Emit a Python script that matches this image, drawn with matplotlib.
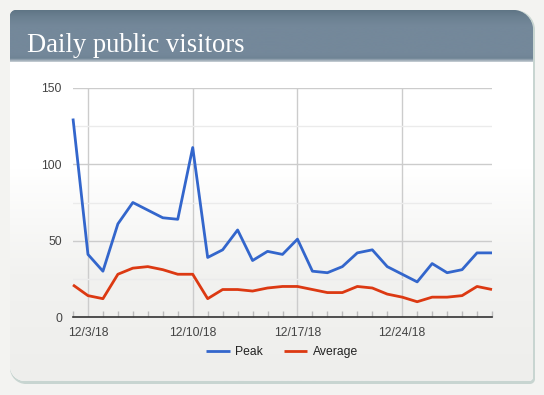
import numpy as np
import matplotlib
matplotlib.use("Agg")
import matplotlib.pyplot as plt
import matplotlib.dates as mdates
from matplotlib.path import Path
from matplotlib.patches import PathPatch
import datetime as dt

# ---------------- data ----------------
start_date = "2018-12-02"
n_days = 29
peak = [130, 41, 30, 61, 75, 70, 65, 64, 111, 39, 44, 57, 37, 43, 41,
        51, 30, 29, 33, 42, 44, 33, 28, 23, 35, 29, 31, 42, 42]
average = [21, 14, 12, 28, 32, 33, 31, 28, 28, 12, 18, 18, 17, 19, 20,
           20, 18, 16, 16, 20, 19, 15, 13, 10, 13, 13, 14, 20, 18]
series_names = ["Peak", "Average"]
title = "Daily public visitors"
y_ticks = [0, 50, 100, 150]
x_tick_dates = ["2018-12-03", "2018-12-10", "2018-12-17", "2018-12-24"]

dates = [dt.datetime.strptime(start_date, "%Y-%m-%d") + dt.timedelta(days=i) for i in range(n_days)]

W, H = 544, 395
fig = plt.figure(figsize=(W / 100, H / 100), dpi=100)
fig.patch.set_facecolor("#f3f3f1")

# ---------------- background card ----------------
bg = fig.add_axes([0, 0, 1, 1], zorder=0)
bg.set_xlim(0, W)
bg.set_ylim(H, 0)
bg.axis("off")


def rrect(x0, y0, x1, y1, r_tl, r_tr, r_br, r_bl):
    k = 0.5523
    verts, codes = [], []
    verts += [(x0 + r_tl, y0)]; codes += [Path.MOVETO]
    verts += [(x1 - r_tr, y0)]; codes += [Path.LINETO]
    verts += [(x1 - r_tr + k * r_tr, y0), (x1, y0 + r_tr - k * r_tr), (x1, y0 + r_tr)]; codes += [Path.CURVE4] * 3
    verts += [(x1, y1 - r_br)]; codes += [Path.LINETO]
    verts += [(x1, y1 - r_br + k * r_br), (x1 - r_br + k * r_br, y1), (x1 - r_br, y1)]; codes += [Path.CURVE4] * 3
    verts += [(x0 + r_bl, y1)]; codes += [Path.LINETO]
    verts += [(x0 + r_bl - k * r_bl, y1), (x0, y1 - r_bl + k * r_bl), (x0, y1 - r_bl)]; codes += [Path.CURVE4] * 3
    verts += [(x0, y0 + r_tl)]; codes += [Path.LINETO]
    verts += [(x0, y0 + r_tl - k * r_tl), (x0 + r_tl - k * r_tl, y0), (x0 + r_tl, y0)]; codes += [Path.CURVE4] * 3
    verts += [(x0 + r_tl, y0)]; codes += [Path.CLOSEPOLY]
    return Path(verts, codes)

# outer shadow/border
bg.add_patch(PathPatch(rrect(10, 10, 535, 384, 6, 20, 5, 16), facecolor="#c8d5d1", edgecolor="none"))
# body
body = rrect(10, 10, 533, 381, 6, 20, 4, 15)
bp = PathPatch(body, facecolor="white", edgecolor="none")
bg.add_patch(bp)
grad = np.linspace(0, 1, 256).reshape(-1, 1)
cmap = matplotlib.colors.LinearSegmentedColormap.from_list("g", ["#ffffff", "#ffffff", "#f2f2f0", "#eeeeec"])
im = bg.imshow(grad, extent=(10, 533, 381, 62), aspect="auto", cmap=cmap, zorder=1)
im.set_clip_path(bp)
# header
hdr = rrect(10, 10, 533, 62, 6, 20, 0, 0)
hp = PathPatch(hdr, facecolor="#74889a", edgecolor="none", zorder=2)
bg.add_patch(hp)
hgrad = np.linspace(0, 1, 256).reshape(-1, 1)
hcmap = matplotlib.colors.LinearSegmentedColormap.from_list(
    "h", [(0, "#5f7585"), (0.12, "#6a7f90"), (0.3, "#74889a"), (0.85, "#74889a"), (0.93, "#6f8495"), (1, "#c9d0d6")])
him = bg.imshow(hgrad, extent=(10, 533, 62, 10), aspect="auto", cmap=hcmap, zorder=3)
him.set_clip_path(hp)
bg.text(27, 52, title, fontsize=19.2, color="white", family="Liberation Serif", va="baseline", ha="left", zorder=4)

# ---------------- chart ----------------
L, R, T, B = 73, 492, 88, 317
ax = fig.add_axes([L / W, 1 - B / H, (R - L) / W, (B - T) / H], zorder=2)
ax.patch.set_alpha(0)

c_peak, c_avg = "#3366cc", "#dc3912"
ax.plot(dates, peak, color=c_peak, lw=2, label=series_names[0], solid_joinstyle="round",
        solid_capstyle="butt", zorder=3, clip_on=False)
ax.plot(dates, average, color=c_avg, lw=2, label=series_names[1], solid_joinstyle="round",
        solid_capstyle="butt", zorder=3, clip_on=False)

ax.set_xlim(dates[0], dates[-1])
ax.set_ylim(0, 150)
ax.set_yticks(y_ticks)
ax.set_yticks([25, 75, 125], minor=True)
xt = [dt.datetime.strptime(d, "%Y-%m-%d") for d in x_tick_dates]
ax.set_xticks(xt)
ax.xaxis.set_major_formatter(mdates.DateFormatter("%-m/%-d/%y"))
ax.set_xticks(dates, minor=True)

ax.grid(True, which="major", color="#cccccc", lw=1, zorder=0)
ax.grid(True, which="minor", axis="y", color="#ebebeb", lw=1, zorder=0)
for s in ["top", "right", "left"]:
    ax.spines[s].set_visible(False)
ax.spines["bottom"].set_color("#333333")
ax.spines["bottom"].set_linewidth(1.2)

ax.tick_params(axis="y", which="both", length=0, pad=8, labelsize=8.7, labelcolor="#444444")
ax.tick_params(axis="x", which="major", length=0, pad=7, labelsize=8.7, labelcolor="#444444")
ax.tick_params(axis="x", which="minor", direction="in", length=4, color="#bbbbbb", width=1)
for lbl in ax.get_xticklabels() + ax.get_yticklabels():
    lbl.set_family("Liberation Sans")

leg = fig.legend(loc="center", bbox_to_anchor=(282 / W, 1 - 352 / H), ncol=2, frameon=False,
                 handlelength=1.95, handletextpad=0.45, columnspacing=1.7,
                 prop={"family": "Liberation Sans", "size": 8.7})
for t in leg.get_texts():
    t.set_color("#222222")

fig.savefig("out.png", dpi=100)
